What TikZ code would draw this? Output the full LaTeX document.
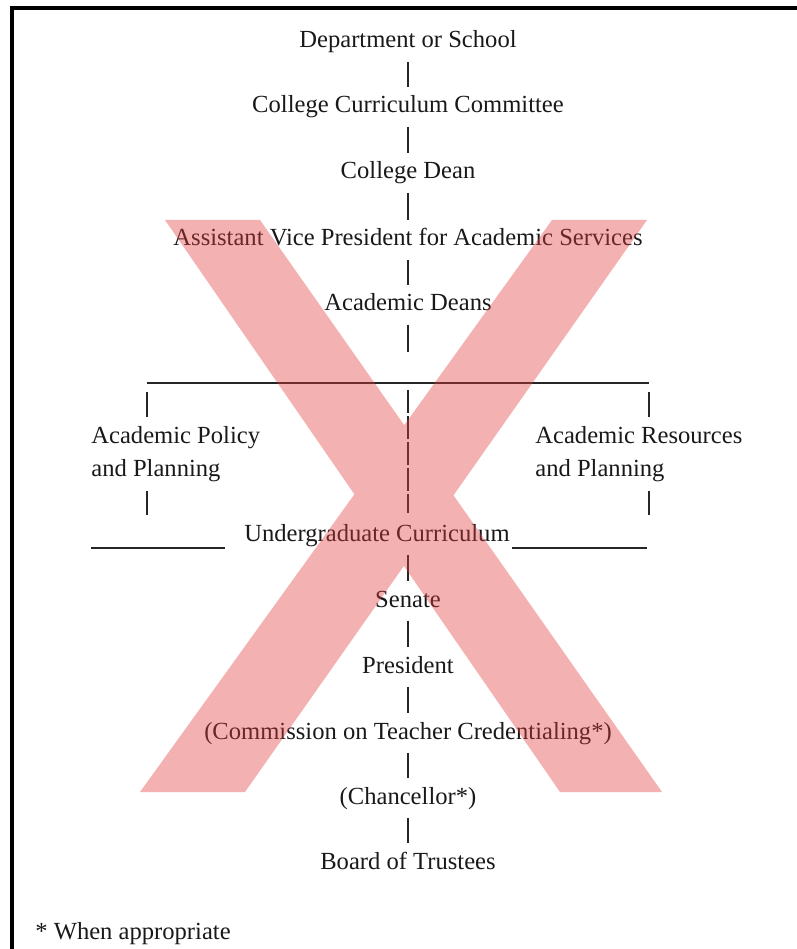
\documentclass[tikz,border=0pt]{standalone}
\usepackage{fontspec}
\setmainfont{Liberation Serif}
\begin{document}
\begin{tikzpicture}[x=0.02cm, y=-0.02cm]
	\tikzstyle{unit}=[font=\fontsize{14}{18.8}\selectfont, text=black!90, inner sep=0pt, text height=10pt, text depth=3pt, anchor=base]
	\tikzstyle{pair}=[font=\fontsize{14}{18.8}\selectfont, text=black!90, inner sep=0pt, align=left, anchor=north west]
	\tikzstyle{link}=[draw=black!85, line width=0.7pt, shorten <=0.16cm, shorten >=0.16cm]
	\tikzstyle{midbar}=[draw=black!85, line width=0.7pt, dash pattern=on 0.46cm off 0.06cm]
	\tikzstyle{cross}=[fill={rgb,255:red,225;green,60;blue,60}, fill opacity=0.4]
	\useasboundingbox (0,0) rectangle (797,949);

	% Frame
	\draw [line width=0.08cm] (12,949) -- (12,8) -- (797,8);

	% Upper chain
	\node [unit] (dept) at (408,48) {Department or School};
	\node [unit] (ccc) at (408,113) {College Curriculum Committee};
	\node [unit] (dean) at (408,179) {College Dean};
	\node [unit] (avp) at (408,246) {Assistant Vice President for Academic Services};
	\node [unit] (deans) at (408,311) {Academic Deans};

	\foreach \a/\b in {dept/ccc, ccc/dean, dean/avp, avp/deans}
	\draw [link] (\a) -- (\b);

	% Committees
	\coordinate (hl) at (147,383);
	\coordinate (hr) at (649,383);
	\coordinate (line_l1) at (91,548);
	\coordinate (line_l2) at (225,548);
	\coordinate (line_r1) at (512,548);
	\coordinate (line_r2) at (647,548);

	\node [pair] (policy) at (91,426) {Academic Policy\\and Planning};
	\node [pair] (resources) at (535,426) {Academic Resources\\and Planning};
	\node [unit] (ugrad) at (377,541) {Undergraduate Curriculum};

	\draw [link, shorten >=0.62cm] (deans) -- (deans |- hl);
	\draw [link, shorten <=0pt, shorten >=0pt] (hl) -- (hr);
	\draw [link, shorten <=0.18cm, shorten >=0.19cm] (hl) -- (policy.north -| hl);
	\draw [link, shorten <=0.18cm, shorten >=0.19cm] (hr) -- (resources.north -| hr);
	\draw [link, shorten <=0.18cm, shorten >=0.66cm] (policy.south -| hl) -- (hl |- line_l1);
	\draw [link, shorten <=0.18cm, shorten >=0.66cm] (resources.south -| hr) -- (hr |- line_r1);
	\draw [midbar, shorten <=0.14cm, shorten >=0.2cm] (hl -| deans) -- (ugrad.north -| deans);
	\draw [link, shorten <=0pt, shorten >=0pt] (line_l1) -- (line_l2);
	\draw [link, shorten <=0pt, shorten >=0pt] (line_r1) -- (line_r2);

	% Lower chain
	\node [unit] (senate) at (408,607) {Senate};
	\node [unit] (pres) at (408,673) {President};
	\node [unit] (ctc) at (408,739) {(Commission on Teacher Credentialing*)};
	\node [unit] (chanc) at (408,804) {(Chancellor*)};
	\node [unit] (board) at (408,869) {Board of Trustees};

	\draw [link] (ugrad.south -| senate) -- (senate);
	\foreach \a/\b in {senate/pres, pres/ctc, ctc/chanc, chanc/board}
	\draw [link] (\a) -- (\b);

	\node [unit, anchor=base west] (note) at (35,939) {* When appropriate};

	% Overlay
	\fill [cross] (165,220) -- (260,220) -- (662,792) -- (560,792) -- cycle
		(552,220) -- (647,220) -- (245,792) -- (140,792) -- cycle;
\end{tikzpicture}
\end{document}
